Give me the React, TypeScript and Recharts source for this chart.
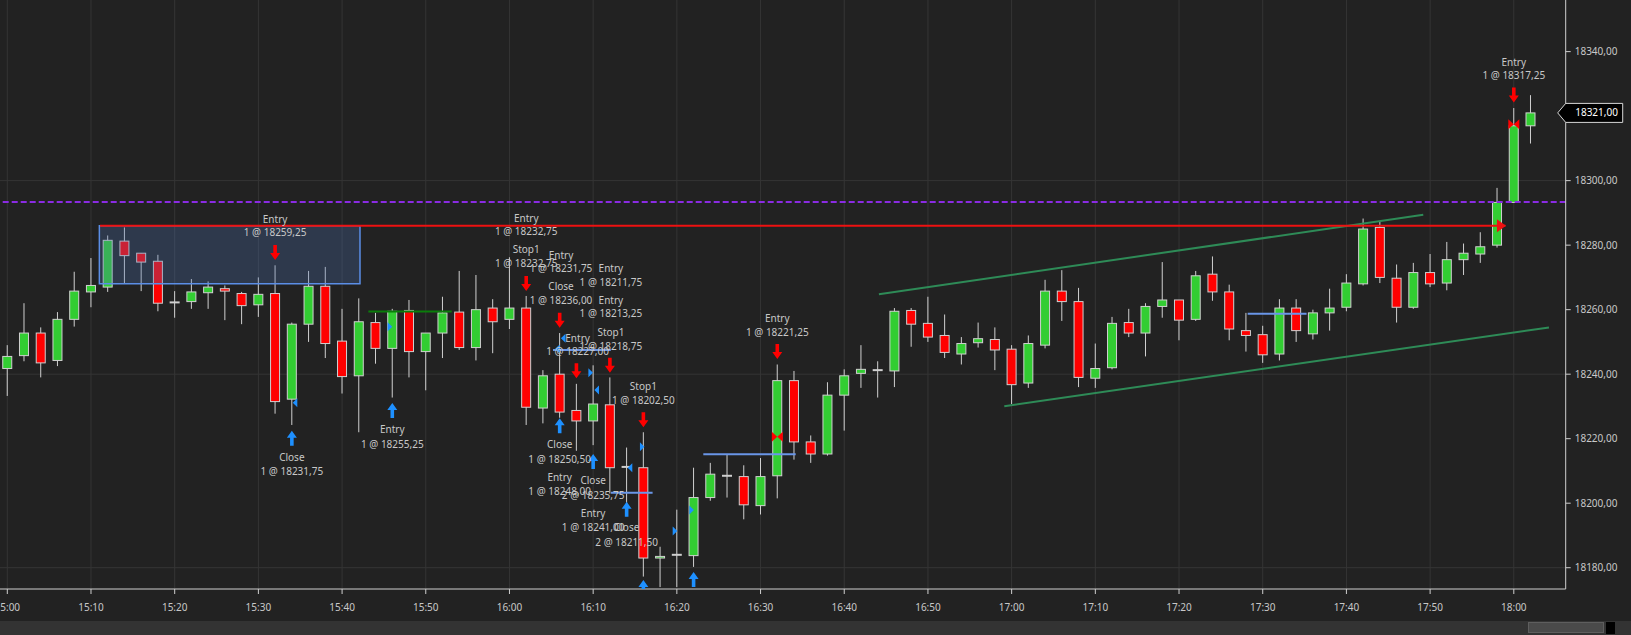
import React from 'react';
import {
  ComposedChart, Bar, Scatter, XAxis, YAxis, CartesianGrid,
  ReferenceLine, ReferenceArea, ReferenceDot,
} from 'recharts';

// ---------- data ----------
const opens = [
  18241.75, 18245.75, 18252.75, 18244.25, 18257, 18265.5, 18267, 18281.25, 18277.5, 18275,
  18262.25, 18262.5, 18265.25, 18266.5, 18265, 18261.5, 18265, 18232.25, 18255.5, 18267.25,
  18250.25, 18239.5, 18256, 18248, 18259.75, 18247, 18252.75, 18259.25, 18248.25, 18260.5,
  18257, 18260.5, 18229.5, 18240, 18228.75, 18225.5, 18230.5, 18211.25, 18211, 18183,
  18184, 18183.75, 18201.75, 18208.5, 18208.25, 18199.25, 18208.5, 18238, 18219, 18215.25,
  18233.5, 18240.25, 18241.25, 18241, 18259.75, 18255.75, 18252, 18246.25, 18249.75, 18250.75,
  18247.75, 18237.25, 18249, 18265.75, 18262.5, 18238.75, 18242, 18256, 18252.75, 18261,
  18263, 18257, 18271, 18265.5, 18253.5, 18252.25, 18246.25, 18260.5, 18252.5, 18259,
  18260.75, 18268, 18285.5, 18269.75, 18260.75, 18271.5, 18268.25, 18275.5, 18277.25, 18280,
  18293.25, 18317,
];
const highs = [
  18249, 18262, 18254.5, 18259.25, 18271.75, 18276, 18283, 18285.5, 18277.5, 18277,
  18265.75, 18269.5, 18268.75, 18267.5, 18265.5, 18270, 18273.75, 18256, 18272, 18273.25,
  18260.25, 18263.5, 18259, 18260.25, 18263, 18252.75, 18264, 18272, 18270.75, 18263.25,
  18276.25, 18264.25, 18241.25, 18252.75, 18237, 18242.75, 18239, 18217.25, 18222, 18186.5,
  18198, 18211, 18212.5, 18215, 18211.75, 18214, 18243, 18241, 18221, 18237.5,
  18241.5, 18249, 18244, 18260.5, 18260.5, 18264, 18258.5, 18251.5, 18256, 18254.5,
  18249, 18252, 18269.25, 18272.25, 18266.75, 18249.5, 18257.75, 18260.25, 18262, 18274.75,
  18263, 18272, 18276.5, 18267.75, 18259, 18255, 18263.25, 18263.25, 18260, 18266.5,
  18271, 18288.25, 18287.25, 18274, 18274.5, 18277.25, 18281, 18280.5, 18284, 18297.75,
  18322.5, 18326.5,
];
const lows = [
  18233.25, 18244, 18239, 18242.5, 18254.75, 18260.75, 18265.5, 18268.25, 18265.75, 18259.5,
  18257.5, 18260.25, 18260.25, 18256.75, 18255.5, 18257.75, 18227.75, 18224.25, 18250, 18245,
  18234, 18222, 18243.25, 18232.75, 18239, 18235, 18245, 18247.5, 18244.25, 18246.5,
  18254, 18224.25, 18224.75, 18226.5, 18216.25, 18218, 18203, 18196, 18177.25, 18174,
  18174, 18180.25, 18200.75, 18201.75, 18195, 18196.5, 18201.5, 18213.5, 18212.5, 18214.75,
  18222.5, 18235.75, 18232.75, 18236, 18248.5, 18250, 18245, 18243, 18248.25, 18241.25,
  18230.75, 18235.75, 18248, 18256.5, 18236, 18235.75, 18241.5, 18251.5, 18245.5, 18257.5,
  18250.5, 18256.5, 18262.75, 18250.5, 18247, 18243.5, 18244.25, 18250, 18250.75, 18253.5,
  18259.5, 18267.5, 18268.25, 18256, 18260.25, 18267, 18266, 18270.75, 18274.5, 18279.25,
  18293.25, 18311.5,
];
const closes = [
  18245.5, 18252.75, 18243.5, 18257, 18265.75, 18267.5, 18281.5, 18276.75, 18274.75, 18262,
  18262.25, 18265.5, 18267, 18265.75, 18261.25, 18264.75, 18231.5, 18255.5, 18267.25, 18249.5,
  18239.25, 18256.25, 18248, 18259.5, 18247, 18252.75, 18259, 18248.25, 18260, 18256.25,
  18260.5, 18229.75, 18239.5, 18228.25, 18225.5, 18230.75, 18211, 18211.25, 18183, 18183.5,
  18184, 18201.75, 18209, 18208.5, 18199.5, 18208.25, 18238, 18219, 18215.25, 18233.5,
  18239.5, 18241.5, 18241.25, 18259.5, 18255.5, 18251.5, 18246.75, 18249.5, 18251, 18247.5,
  18236.75, 18249.5, 18265.75, 18262.5, 18239, 18241.75, 18255.75, 18252.75, 18261, 18263,
  18256.75, 18270.5, 18265.5, 18254, 18252, 18246, 18260.5, 18253.5, 18259, 18260.5,
  18268.25, 18285, 18270, 18260.75, 18271.5, 18268, 18275.5, 18277.5, 18279.5, 18293.25,
  18317, 18321,
];

const candles = opens.map((o, i) => ({ i, o, h: highs[i], l: lows[i], c: closes[i] }));

const X_DOMAIN: [number, number] = [-0.436, 93.1];
const Y_DOMAIN: [number, number] = [18173.4, 18356.0];
// the 18320 label is hidden behind the last-price tag in the reference
const priceTicks = [18180, 18200, 18220, 18240, 18260, 18280, 18300, 18340];
const gridPrices = [18180, 18240, 18300];
const timeTicks = [0, 5, 10, 15, 20, 25, 30, 35, 40, 45, 50, 55, 60, 65, 70, 75, 80, 85, 90];
const START_HOUR = 15;
const BAR_MINUTES = 2;
const LAST_PRICE = 18321;

// drawing objects (x in bar index, y in price)
const dashedLevel = 18293.4;
const targetLine = [5.54, 89.5, 18286.05];
const zoneBox = [5.5, 21.07, 18268.0, 18286.05];
const greenLevels = [[21.57, 26.55, 18259.4]];
const blueLevels = [
  [32.6, 36.05, 18247.5],
  [36.06, 38.55, 18203.25],
  [41.58, 47.1, 18215.15],
  [74.1, 77.62, 18258.7],
];
const channelLines = [
  [52.07, 18264.8, 84.59, 18289.4],
  [59.56, 18230.05, 92.1, 18254.5],
];

const textLabels = [
  { i: 16, p: 18288.03, t: 'Entry' }, { i: 16, p: 18283.88, t: '1 @ 18259,25' },
  { i: 17, p: 18214.23, t: 'Close' }, { i: 17, p: 18209.98, t: '1 @ 18231,75' },
  { i: 23, p: 18222.7, t: 'Entry' }, { i: 23, p: 18218.26, t: '1 @ 18255,25' },
  { i: 31, p: 18288.34, t: 'Entry' }, { i: 31, p: 18284.19, t: '1 @ 18232,75' },
  { i: 31, p: 18278.51, t: 'Stop1' }, { i: 31, p: 18274.39, t: '1 @ 18232,75' },
  { i: 33.08, p: 18276.74, t: 'Entry' }, { i: 33.08, p: 18272.84, t: '1 @ 18231,75' },
  { i: 33.08, p: 18267.13, t: 'Close' }, { i: 33.08, p: 18262.7, t: '1 @ 18236,00' },
  { i: 36.06, p: 18272.84, t: 'Entry' }, { i: 36.06, p: 18268.5, t: '1 @ 18211,75' },
  { i: 36.06, p: 18262.91, t: 'Entry' }, { i: 36.06, p: 18258.67, t: '1 @ 18213,25' },
  { i: 36.06, p: 18252.99, t: 'Stop1' }, { i: 36.06, p: 18248.53, t: '1 @ 18218,75' },
  { i: 34.07, p: 18251.13, t: 'Entry' }, { i: 34.07, p: 18246.98, t: '1 @ 18227,00' },
  { i: 38, p: 18236.12, t: 'Stop1' }, { i: 38, p: 18231.69, t: '1 @ 18202,50' },
  { i: 33, p: 18218.05, t: 'Close' }, { i: 33, p: 18213.61, t: '1 @ 18250,50' },
  { i: 33, p: 18208.03, t: 'Entry' }, { i: 33, p: 18203.57, t: '1 @ 18248,00' },
  { i: 35, p: 18206.98, t: 'Close' }, { i: 35, p: 18202.33, t: '2 @ 18235,75' },
  { i: 35, p: 18196.87, t: 'Entry' }, { i: 35, p: 18192.4, t: '1 @ 18241,00' },
  { i: 37, p: 18192.4, t: 'Close' }, { i: 37, p: 18187.88, t: '2 @ 18211,50' },
  { i: 46, p: 18257.33, t: 'Entry' }, { i: 46, p: 18252.99, t: '1 @ 18221,25' },
  { i: 90, p: 18336.71, t: 'Entry' }, { i: 90, p: 18332.47, t: '1 @ 18317,25' },
];

const downArrows = [
  { i: 16, p: 18275.41 }, { i: 31, p: 18265.8 }, { i: 33, p: 18254.42 }, { i: 34, p: 18238.73 },
  { i: 36, p: 18240.47 }, { i: 38, p: 18223.53 }, { i: 46, p: 18244.71 }, { i: 90, p: 18324.19 },
];
const upArrows = [
  { i: 17, p: 18222.48 }, { i: 23, p: 18231.07 }, { i: 33, p: 18226.33 }, { i: 35, p: 18215.26 },
  { i: 37, p: 18200.47 }, { i: 38, p: 18176.19 }, { i: 41, p: 18178.67 },
];
const leftMarks = [
  { i: 17.19, p: 18231.16 }, { i: 33.21, p: 18251.13 }, { i: 32.86, p: 18247.81 },
  { i: 35.21, p: 18235.1 }, { i: 37.2, p: 18211.01 },
];
const rightMarks = [
  { i: 22.86, p: 18254.73 }, { i: 34.85, p: 18240.47 }, { i: 37.93, p: 18217.52 },
  { i: 39.89, p: 18191.38 }, { i: 40.88, p: 18197.89 },
];
const bowties = [{ i: 46, p: 18220.62 }, { i: 90, p: 18317.49 }];
const targetArrow = [{ i: 89.53, p: 18286.05 }];

// ---------- helpers ----------
const fmtPrice = (v: number) => v.toFixed(2).replace('.', ',');
const fmtTime = (i: number) => {
  const m = Math.round(i * BAR_MINUTES);
  const h = START_HOUR + Math.floor(m / 60);
  const mm = m % 60;
  return `${h}:${mm < 10 ? '0' : ''}${mm}`;
};

const GREEN = '#32cd32';
const RED = '#ff0000';
const OUTLINE = '#d0d0d0';
const BLUE = '#1e90ff';
const TEXT = '#c8c8c8';

const CandleShape = (props: any) => {
  const { x, y, width, height, payload } = props;
  if (!payload || height == null) return null;
  const { o, c, h, l } = payload;
  const cx = x + width / 2;
  const ratio = h - l === 0 ? 0 : height / (h - l);
  const yOf = (v: number) => y + (h - v) * ratio;
  const top = yOf(Math.max(o, c));
  const bot = yOf(Math.min(o, c));
  const bw = 9;
  if (o === c) {
    return (
      <g>
        <line x1={cx} x2={cx} y1={y} y2={y + height} stroke={OUTLINE} strokeWidth={1} />
        <line x1={cx - 5} x2={cx + 5} y1={top} y2={top} stroke={OUTLINE} strokeWidth={2} />
      </g>
    );
  }
  return (
    <g>
      <line x1={cx} x2={cx} y1={y} y2={y + height} stroke={OUTLINE} strokeWidth={1} />
      <rect
        x={cx - bw / 2}
        y={top}
        width={bw}
        height={Math.max(bot - top, 1)}
        fill={c > o ? GREEN : RED}
        stroke={OUTLINE}
        strokeWidth={1}
      />
    </g>
  );
};

const TextShape = (props: any) => {
  const { cx, cy, payload } = props;
  return (
    <text x={cx} y={cy} dy="0.35em" textAnchor="middle" fill={TEXT} fontSize={10}>
      {payload.t}
    </text>
  );
};

const DownArrow = (props: any) => {
  const { cx, cy } = props;
  return (
    <path
      d={`M${cx - 1.8},${cy - 15} h3.6 v8 h3.2 L${cx},${cy} L${cx - 5},${cy - 7} h3.2 Z`}
      fill={RED}
    />
  );
};
const UpArrow = (props: any) => {
  const { cx, cy } = props;
  return (
    <path
      d={`M${cx - 1.8},${cy + 15} h3.6 v-8 h3.2 L${cx},${cy} L${cx - 5},${cy + 7} h3.2 Z`}
      fill={BLUE}
    />
  );
};
const LeftMark = (props: any) => {
  const { cx, cy } = props;
  return <path d={`M${cx - 2.3},${cy} L${cx + 2.3},${cy - 4.5} L${cx + 2.3},${cy + 4.5} Z`} fill={BLUE} />;
};
const RightMark = (props: any) => {
  const { cx, cy } = props;
  return <path d={`M${cx + 2.3},${cy} L${cx - 2.3},${cy - 4.5} L${cx - 2.3},${cy + 4.5} Z`} fill={BLUE} />;
};
const Bowtie = (props: any) => {
  const { cx, cy } = props;
  return (
    <g fill={RED}>
      <path d={`M${cx - 5.5},${cy - 5} L${cx - 5.5},${cy + 5} L${cx},${cy} Z`} />
      <path d={`M${cx + 5.5},${cy - 5} L${cx + 5.5},${cy + 5} L${cx},${cy} Z`} />
    </g>
  );
};
const TargetHead = (props: any) => {
  const { cx, cy } = props;
  return <path d={`M${cx},${cy} L${cx - 9},${cy - 6.5} L${cx - 9},${cy + 6.5} Z`} fill="#ee1111" />;
};
const PriceTag = (props: any) => {
  const { cx, cy } = props;
  return (
    <g>
      <path
        d={`M${cx - 8},${cy} L${cx},${cy - 9.5} L${cx + 57},${cy - 9.5} L${cx + 57},${cy + 9.5} L${cx},${cy + 9.5} Z`}
        fill="#000"
        stroke="#d8d8d8"
        strokeWidth={1}
      />
      <text x={cx + 9.5} y={cy} dy="0.35em" fill="#ffffff" fontSize={10}>
        {fmtPrice(LAST_PRICE)}
      </text>
    </g>
  );
};

export default function App() {
  return (
    <div
      style={{
        position: 'absolute',
        left: 0,
        top: 0,
        width: 1631,
        height: 635,
        background: '#222222',
        fontFamily: '"Noto Sans", "DejaVu Sans", sans-serif',
        overflow: 'hidden',
      }}
    >
      <ComposedChart
        width={1631}
        height={635}
        data={candles}
        margin={{ top: 0, right: 0, bottom: 0, left: 0 }}
      >
        <CartesianGrid
          stroke="#353535"
          strokeWidth={1}
          horizontalValues={gridPrices}
          verticalValues={timeTicks}
        />
        <XAxis
          dataKey="i"
          type="number"
          domain={X_DOMAIN}
          ticks={timeTicks}
          interval={0}
          allowDataOverflow
          height={46}
          tickFormatter={fmtTime}
          tick={{ fill: TEXT, fontSize: 10 }}
          tickSize={5}
          tickMargin={10}
          stroke="#cfcfcf"
        />
        <YAxis
          orientation="right"
          type="number"
          domain={Y_DOMAIN}
          ticks={priceTicks}
          interval={0}
          allowDataOverflow
          width={65.3}
          tickFormatter={fmtPrice}
          tick={{ fill: TEXT, fontSize: 10 }}
          tickSize={5}
          tickMargin={4}
          stroke="#cfcfcf"
        />
        <ReferenceLine
          y={dashedLevel}
          stroke="#8a2be2"
          strokeWidth={2}
          strokeDasharray="6 3"
        />
        <Bar
          dataKey={(d: any) => [d.l, d.h]}
          barSize={10}
          shape={CandleShape}
          isAnimationActive={false}
        />
        <ReferenceArea
          x1={zoneBox[0]}
          x2={zoneBox[1]}
          y1={zoneBox[2]}
          y2={zoneBox[3]}
          fill="rgb(77,114,177)"
          fillOpacity={0.3}
          stroke="#5b8ee6"
          strokeWidth={1.5}
          zIndex={350}
        />
        {channelLines.map((s, k) => (
          <ReferenceLine
            key={`ch${k}`}
            segment={[{ x: s[0], y: s[1] }, { x: s[2], y: s[3] }]}
            stroke="#2e8b57"
            strokeWidth={2}
          />
        ))}
        {greenLevels.map((s, k) => (
          <ReferenceLine
            key={`gl${k}`}
            segment={[{ x: s[0], y: s[2] }, { x: s[1], y: s[2] }]}
            stroke="#0a7d0a"
            strokeWidth={2}
          />
        ))}
        {blueLevels.map((s, k) => (
          <ReferenceLine
            key={`bl${k}`}
            segment={[{ x: s[0], y: s[2] }, { x: s[1], y: s[2] }]}
            stroke="#6a96e8"
            strokeWidth={2}
          />
        ))}
        <ReferenceLine
          segment={[{ x: targetLine[0], y: targetLine[2] }, { x: targetLine[1], y: targetLine[2] }]}
          stroke="#ee1111"
          strokeWidth={2}
          zIndex={450}
        />
        <Scatter data={targetArrow} dataKey="p" shape={TargetHead} isAnimationActive={false} />
        <Scatter data={downArrows} dataKey="p" shape={DownArrow} isAnimationActive={false} />
        <Scatter data={upArrows} dataKey="p" shape={UpArrow} isAnimationActive={false} />
        <Scatter data={leftMarks} dataKey="p" shape={LeftMark} isAnimationActive={false} />
        <Scatter data={rightMarks} dataKey="p" shape={RightMark} isAnimationActive={false} />
        <Scatter data={bowties} dataKey="p" shape={Bowtie} isAnimationActive={false} />
        <Scatter data={textLabels} dataKey="p" shape={TextShape} isAnimationActive={false} />
        <ReferenceDot
          x={X_DOMAIN[1]}
          y={LAST_PRICE}
          r={0}
          ifOverflow="visible"
          shape={PriceTag}
        />
      </ComposedChart>
      <div
        style={{
          position: 'absolute',
          left: 0,
          top: 621,
          width: 1631,
          height: 14,
          background: '#333333',
        }}
      >
        <div
          style={{
            position: 'absolute',
            left: 1528,
            top: 1,
            width: 76,
            height: 11,
            background: '#4a4a4a',
            border: '1px solid #5e5e5e',
            boxSizing: 'border-box',
          }}
        />
        <div
          style={{
            position: 'absolute',
            left: 1606,
            top: 1,
            width: 9,
            height: 12,
            background: '#000',
          }}
        />
      </div>
    </div>
  );
}
